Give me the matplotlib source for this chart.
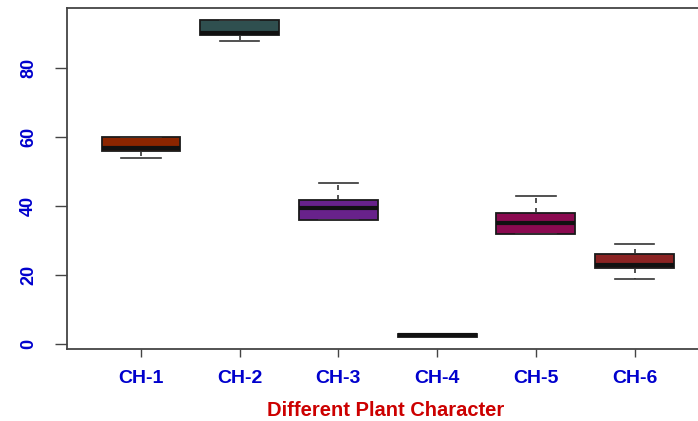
import matplotlib
matplotlib.use("Agg")
import matplotlib.pyplot as plt

# ---- data ----
categories = ["CH-1", "CH-2", "CH-3", "CH-4", "CH-5", "CH-6"]
whis_lo = [53.9, 87.7, 35.8, 2.0, 31.9, 18.9]
q1      = [56.0, 89.7, 35.8, 2.0, 31.9, 22.0]
median  = [56.8, 90.1, 39.4, 2.5, 35.0, 22.8]
q3      = [59.9, 93.8, 41.7, 2.9, 38.0, 26.0]
whis_hi = [59.9, 93.8, 46.8, 2.9, 43.0, 28.9]
box_colors = ["#8B2500", "#2F4F4F", "#68228B", "#1A1A1A", "#8B0A50", "#8B2323"]
y_ticks = [0, 20, 40, 60, 80]
x_title = "Different Plant Character"

W, H = 698, 421
fig = plt.figure(figsize=(W / 100, H / 100), dpi=100)
left_px, right_px, top_px, bottom_px = 67, 702, 8, 349
ax = fig.add_axes([left_px / W, 1 - bottom_px / H,
                   (right_px - left_px) / W, (bottom_px - top_px) / H])

stats = []
for i, c in enumerate(categories):
    stats.append(dict(label=c, whislo=whis_lo[i], q1=q1[i], med=median[i],
                      q3=q3[i], whishi=whis_hi[i], fliers=[]))

positions = list(range(1, len(categories) + 1))
bp = ax.bxp(stats, positions=positions, widths=0.8, patch_artist=True,
            showfliers=False,
            boxprops=dict(edgecolor="#1a1a1a", linewidth=1.3),
            medianprops=dict(color="#111111", linewidth=3.0, solid_capstyle="butt"),
            whiskerprops=dict(color="#333333", linewidth=1.2, linestyle=(0, (3, 3))),
            capprops=dict(color="#333333", linewidth=1.2),
            capwidths=0.4)
for patch, col in zip(bp["boxes"], box_colors):
    patch.set_facecolor(col)

# axis limits from pixel geometry
spacing = 98.7
ax.set_xlim(1 - (141 - left_px) / spacing, 1 + (right_px - 141) / spacing)
ax.set_ylim(-1.45, 97.4)

ax.set_yticks(y_ticks)
ax.set_yticklabels([str(v) for v in y_ticks], rotation=90, va="center",
                   color="#0000CD", fontweight="bold", fontsize=13,
                   family="Liberation Sans")
ax.set_xticks(positions)
ax.set_xticklabels(categories, color="#0000CD", fontweight="bold", fontsize=14,
                   family="Liberation Sans")
ax.tick_params(axis="y", length=8.6, width=1.0, color="#444444", pad=13)
ax.tick_params(axis="x", length=5.8, width=1.0, color="#444444", pad=9)

for s in ["left", "bottom", "top"]:
    ax.spines[s].set_color("#444444")
    ax.spines[s].set_linewidth(1.3)
ax.spines["right"].set_visible(False)

fig.text(386 / W, 1 - 411 / H, x_title, color="#CC0000", fontweight="bold",
         fontsize=14.5, family="Liberation Sans", ha="center", va="center")

fig.savefig("out.png", dpi=100, facecolor="white")
